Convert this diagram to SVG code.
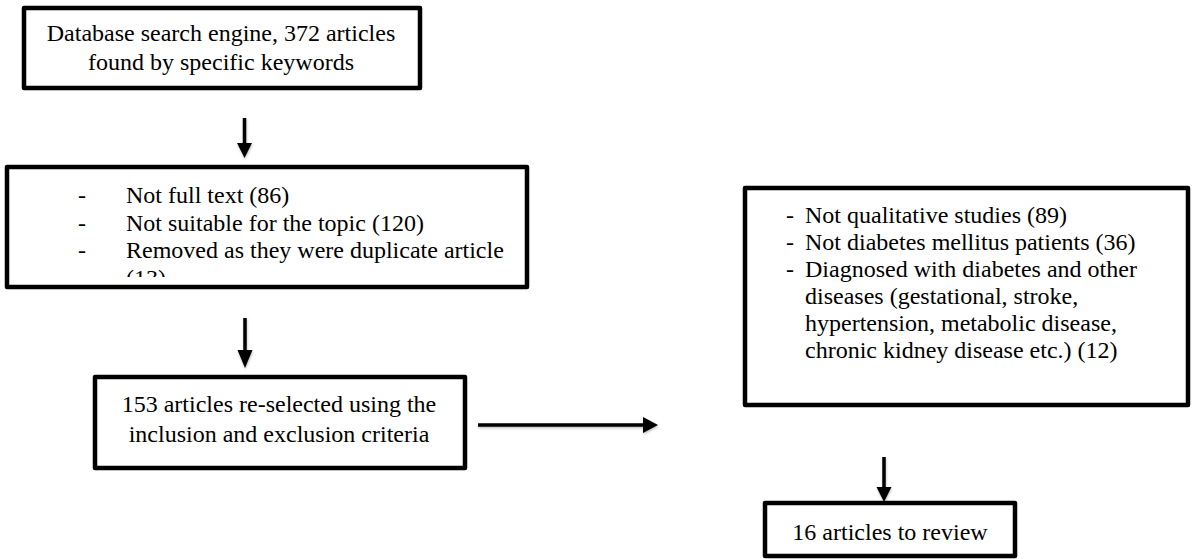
<svg xmlns="http://www.w3.org/2000/svg" width="1193" height="559" viewBox="0 0 1193 559">
  <style>
    .box { fill: #ffffff; stroke: #000000; stroke-width: 4.5; stroke-linejoin: round; }
    .txt { font-size: 24px; fill: #000000; }
    .mid { text-anchor: middle; }
    .link { stroke: #000000; stroke-width: 3.5; fill: none; }
    .head { fill: #000000; }
  </style>
  <defs>
    <clipPath id="clip-excluded-1">
      <rect x="10" y="170" width="514" height="107"/>
    </clipPath>
    <filter id="soft-shadow" x="-20%" y="-20%" width="140%" height="140%">
      <feDropShadow dx="0.5" dy="1.5" stdDeviation="1.2" flood-color="#000000" flood-opacity="0.25"/>
    </filter>
  </defs>
  <rect width="1193" height="559" fill="#ffffff"/>

  <g font-family="'Liberation Serif', Tinos, 'Times New Roman', 'DejaVu Serif', serif">
    <!-- Search results -->
    <g id="node-search">
      <rect class="box" x="24" y="8" width="396" height="80"/>
      <text class="txt mid" x="221" y="41">Database search engine, 372 articles</text>
      <text class="txt mid" x="221" y="70">found by specific keywords</text>
    </g>

    <!-- First exclusion list (last line overflows the box) -->
    <g id="node-excluded-1">
      <rect class="box" x="7" y="167" width="520" height="120"/>
      <g clip-path="url(#clip-excluded-1)">
        <text class="txt" x="78" y="203">-</text>
        <text class="txt" x="126" y="203">Not full text (86)</text>
        <text class="txt" x="78" y="231">-</text>
        <text class="txt" x="126" y="231">Not suitable for the topic (120)</text>
        <text class="txt" x="78" y="258">-</text>
        <text class="txt" x="126" y="258">Removed as they were duplicate article</text>
        <text class="txt" x="126" y="286">(13)</text>
      </g>
    </g>

    <!-- Re-selection -->
    <g id="node-reselected">
      <rect class="box" x="95" y="377" width="370" height="91"/>
      <text class="txt mid" x="279" y="412">153 articles re-selected using the</text>
      <text class="txt mid" x="279" y="442">inclusion and exclusion criteria</text>
    </g>

    <!-- Second exclusion list -->
    <g id="node-excluded-2">
      <rect class="box" x="745" y="188" width="443" height="217"/>
      <text class="txt" x="786" y="223">-</text>
      <text class="txt" x="805" y="223">Not qualitative studies (89)</text>
      <text class="txt" x="786" y="250">-</text>
      <text class="txt" x="805" y="250">Not diabetes mellitus patients (36)</text>
      <text class="txt" x="786" y="277">-</text>
      <text class="txt" x="805" y="277">Diagnosed with diabetes and other</text>
      <text class="txt" x="805" y="304">diseases (gestational, stroke,</text>
      <text class="txt" x="805" y="331">hypertension, metabolic disease,</text>
      <text class="txt" x="805" y="358">chronic kidney disease etc.) (12)</text>
    </g>

    <!-- Final set -->
    <g id="node-review">
      <rect class="box" x="765" y="503" width="250" height="53"/>
      <text class="txt mid" x="890" y="540">16 articles to review</text>
    </g>
  </g>

  <!-- Connectors -->
  <g id="connectors" filter="url(#soft-shadow)">
    <line class="link" x1="244.5" y1="118" x2="244.5" y2="145"/>
    <polygon class="head" points="237,143 252,143 244.5,158"/>

    <line class="link" x1="245" y1="318" x2="245" y2="352"/>
    <polygon class="head" points="237.5,350 252.5,350 245,368"/>

    <line class="link" x1="478" y1="425" x2="645" y2="425"/>
    <polygon class="head" points="643,417 643,433 658,425"/>

    <line class="link" x1="884" y1="457" x2="884" y2="489"/>
    <polygon class="head" points="876.5,487 891.5,487 884,502"/>
  </g>
</svg>
